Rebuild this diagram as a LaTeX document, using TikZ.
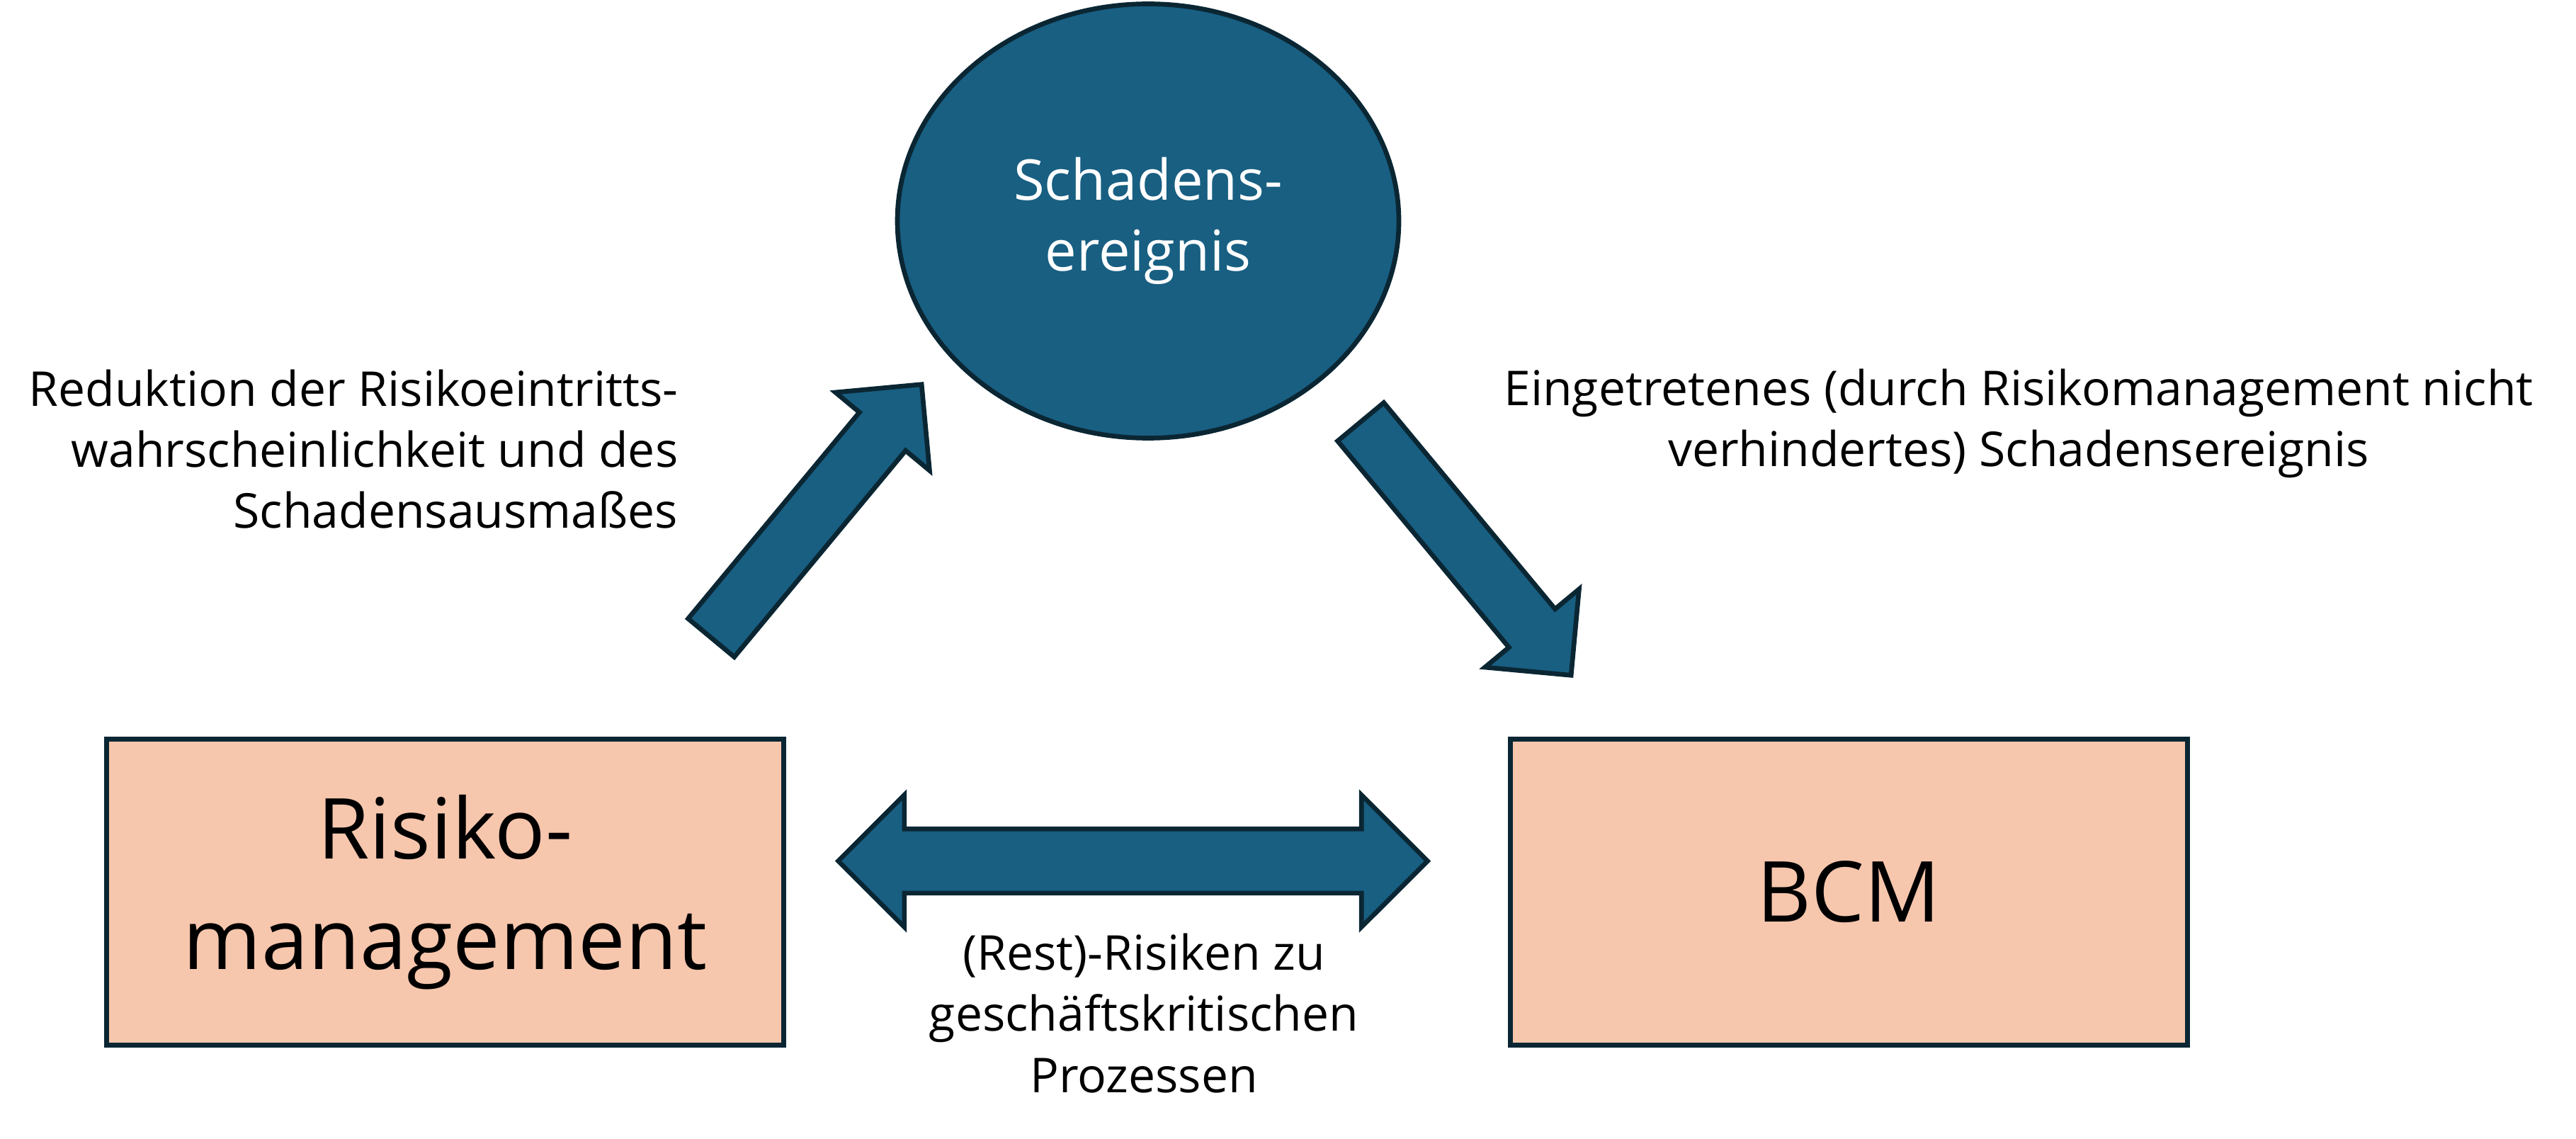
\documentclass[tikz,border=0pt]{standalone}
\usepackage{fontspec}
\setmainfont{Open Sans}
\usepackage{tikz}
\usetikzlibrary{shapes.geometric, shapes.arrows, positioning}
\usepackage{xcolor}

\definecolor{schadenblau}{HTML}{185F82}
\definecolor{randdunkel}{HTML}{0B2633}
\definecolor{pfirsich}{HTML}{F6C6AD}

\begin{document}
\begin{tikzpicture}[
        bereich/.style={rectangle, draw=randdunkel, line width=1.9pt, fill=pfirsich,
            minimum width=9.56cm, minimum height=4.32cm, align=center,
            font=\fontsize{33.8}{44.2}\selectfont},
        ereignis/.style={ellipse, draw=randdunkel, line width=1.9pt, fill=schadenblau,
            minimum width=7.08cm, minimum height=6.13cm, inner sep=0pt, text=white,
            align=center, font=\fontsize{22.6}{28.4}\selectfont},
        blockpfeil/.style={single arrow, draw=randdunkel, line width=1.9pt, fill=schadenblau,
            minimum height=4.65cm, inner sep=0pt, inner ysep=0.39cm, anchor=tail,
            single arrow head extend=0.44cm, single arrow tip angle=90},
        doppelpfeil/.style={double arrow, draw=randdunkel, line width=1.9pt, fill=schadenblau,
            minimum height=8.32cm, inner sep=0pt, inner ysep=0.42cm,
            double arrow head extend=0.48cm, double arrow tip angle=90},
        beschriftung/.style={inner sep=0pt, font=\fontsize{19.3}{24.5}\selectfont}
    ]
        \useasboundingbox (0, 0) rectangle (36.37, 16.07);

        % Knoten
        \node[ereignis] (schaden) at (16.21, 12.95) {Schadens-\\ereignis};
        \node[bereich] (risiko) at (6.285, 3.475) {Risiko-\\management};
        \node[bereich] (bcm) at (26.105, 3.475) {BCM};

        % Pfeile
        \node[blockpfeil, rotate=50.3] (reduktion) at (10.02, 7.04) {};
        \node[blockpfeil, rotate=-50.3] (eintritt) at (19.19, 10.14) {};
        \node[doppelpfeil] (rest) at (15.995, 3.915) {};

        % Beschriftungen
        \node[beschriftung, anchor=base east, align=right] (reduktionstext) at (9.58, 8.61)
            {Reduktion der Risikoeintritts-\\wahrscheinlichkeit und des\\Schadensausmaßes};
        \node[beschriftung, anchor=base, align=center] (eintrittstext) at (28.5, 9.48)
            {Eingetretenes (durch Risikomanagement nicht\\verhindertes) Schadensereignis};
        \node[beschriftung, anchor=base, align=center] (resttext) at (16.15, 0.65)
            {(Rest)-Risiken zu\\geschäftskritischen\\Prozessen};
    \end{tikzpicture}
\end{document}
